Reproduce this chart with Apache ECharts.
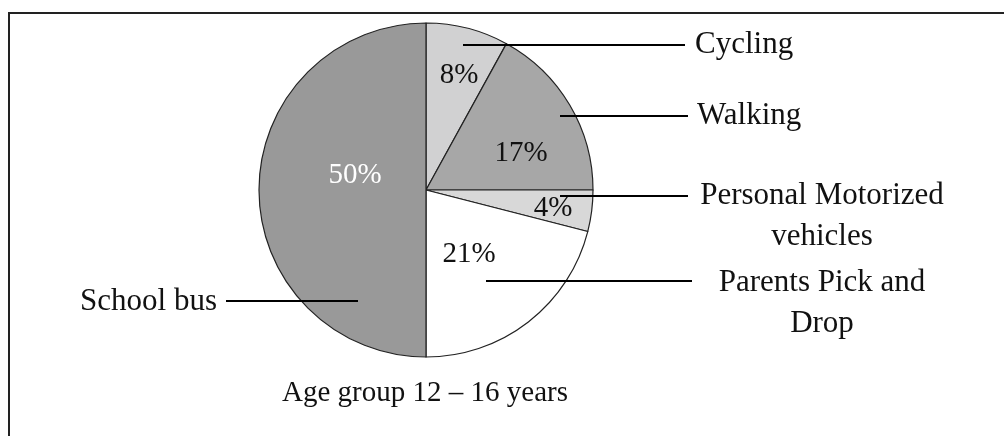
<!DOCTYPE html>
<html>
<head>
<meta charset="utf-8">
<script src="https://cdn.jsdelivr.net/npm/echarts@6/dist/echarts.min.js"></script>
<style>
html,body{margin:0;padding:0;background:#fff;}
#chart{width:1004px;height:436px;}
</style>
</head>
<body>
<div id="chart"></div>
<script>
// ---- data ----
var categories = ['Cycling', 'Walking', 'Personal Motorized\nvehicles', 'Parents Pick and\nDrop', 'School bus'];
var values = [8, 17, 4, 21, 50];
var chartTitle = 'Age group 12 \u2013 16 years';

// ---- styles / layout ----
var sliceColors = ['#d1d1d2', '#a7a7a7', '#d8d8d8', '#ffffff', '#999999'];
var pctColors = ['#111', '#111', '#111', '#111', '#ffffff'];
var pctPos = [[459, 75], [521, 153], [553, 208], [469, 254], [355, 175]];
var namePos = [[695, 45, 'left'], [697, 116, 'left'], [822, 216, 'center'], [822, 303, 'center'], [217, 302, 'right']];
var leaderLines = [
  [[463, 45], [685, 45]],
  [[560, 116], [688, 116]],
  [[560, 196], [688, 196]],
  [[486, 281], [692, 281]],
  [[226, 301], [358, 301]]
];
var FONT = 'Liberation Serif';

var chart = echarts.init(document.getElementById('chart'), null, {renderer: 'canvas'});

var pieData = categories.map(function (c, i) {
  return {
    name: c,
    value: values[i],
    itemStyle: {color: sliceColors[i]},
    label: {color: pctColors[i]}
  };
});
var nameData = categories.map(function (c, i) {
  return {name: c, value: values[i]};
});

var option = {
  backgroundColor: '#ffffff',
  animation: false,
  graphic: [
    {
      type: 'polyline',
      shape: {points: [[9, 450], [9, 13], [1020, 13]]},
      style: {stroke: '#222', lineWidth: 2, fill: null},
      z: 10
    },
    {
      type: 'text',
      x: 425,
      y: 393,
      style: {
        text: chartTitle,
        font: '29px "' + FONT + '"',
        fill: '#111',
        align: 'center',
        verticalAlign: 'middle'
      }
    }
  ],
  series: [
    {
      type: 'pie',
      center: [426, 190],
      radius: 167,
      startAngle: 90,
      clockwise: true,
      silent: true,
      data: pieData,
      itemStyle: {borderColor: '#222', borderWidth: 1.2},
      label: {
        show: true,
        position: 'inside',
        formatter: function (p) { return p.value + '%'; },
        fontFamily: FONT,
        fontSize: 29
      },
      labelLine: {show: false},
      labelLayout: function (p) {
        var q = pctPos[p.dataIndex];
        return {x: q[0], y: q[1], align: 'center', verticalAlign: 'middle'};
      }
    },
    {
      type: 'pie',
      center: [426, 190],
      radius: 167,
      startAngle: 90,
      clockwise: true,
      silent: true,
      data: nameData,
      itemStyle: {color: 'rgba(0,0,0,0)', borderWidth: 0},
      label: {
        show: true,
        position: 'outside',
        formatter: '{b}',
        fontFamily: FONT,
        fontSize: 31,
        lineHeight: 41,
        color: '#111'
      },
      labelLine: {show: true, lineStyle: {color: '#000', width: 2}},
      labelLayout: function (p) {
        var q = namePos[p.dataIndex];
        var l = leaderLines[p.dataIndex];
        return {
          x: q[0], y: q[1], align: q[2], verticalAlign: 'middle',
          labelLinePoints: [l[0], l[1], l[1]]
        };
      },
      z: 3
    }
  ]
};
chart.setOption(option);
</script>
</body>
</html>
